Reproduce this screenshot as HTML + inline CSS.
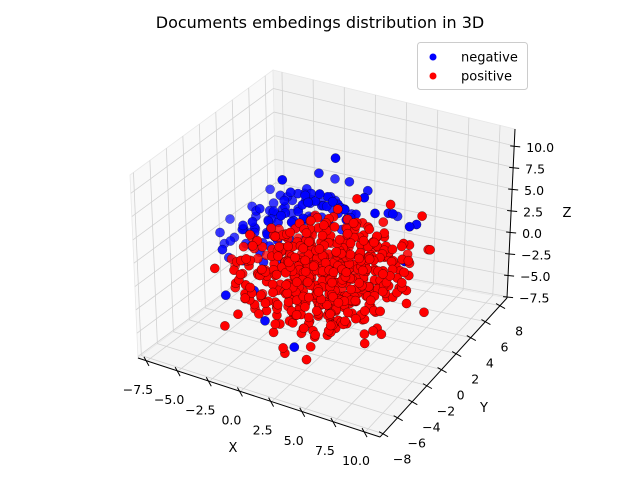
<!DOCTYPE html>
<html><head><meta charset="utf-8"><style>
html,body{margin:0;padding:0;background:#fff;}
svg{display:block;font-family:"DejaVu Sans","Liberation Sans",sans-serif;}
</style></head><body>
<svg id="chart" width="640" height="480" viewBox="0 0 640 480">
<text x="320" y="28" text-anchor="middle" font-size="16" fill="#000">Documents embedings distribution in 3D</text>
<g id="panes"></g>
<g id="grid"></g>
<g id="axes"></g>
<g id="points"></g>
<text x="233" y="452" text-anchor="middle" font-size="13">X</text>
<text x="484" y="412" text-anchor="middle" font-size="13">Y</text>
<text x="567" y="217" text-anchor="middle" font-size="13">Z</text>
<g>
<rect x="417.5" y="42.5" width="110" height="47" rx="3" fill="#fff" fill-opacity="0.8" stroke="#ccc"/>
<g><circle cx="433" cy="57" r="3.5" fill="#0000ff"/><text x="461" y="61.5" font-size="13">negative</text></g>
<g><circle cx="433" cy="76" r="3.5" fill="#ff0000"/><text x="461" y="80.5" font-size="13">positive</text></g>
</g>
</svg>
<script>
const xRange=[-8.22,11.2], yRange=[-8.42,8.95], zRange=[-7.66,11.96];
const xTicks=[-7.5,-5.0,-2.5,0.0,2.5,5.0,7.5,10.0];
const yTicks=[-8,-6,-4,-2,0,2,4,6,8];
const zTicks=[-7.5,-5.0,-2.5,0.0,2.5,5.0,7.5,10.0];
const negative=[-2.0,3.0,2.0,-4.0,2.0,1.0,-1.0,4.0,3.0,-3.0,4.5,0.5,0.5,3.5,4.0,-5.0,3.0,-0.5,-2.5,1.0,3.5,-6.0,1.5,0.5,1.0,5.0,2.0,-3.5,5.5,2.5,
-4.5,4.0,3.0,-1.5,2.5,5.0,-5.5,2.5,2.0,0.0,6.0,1.0,-3.0,3.0,4.5,-7.0,2.0,-1.0,-6.5,3.5,1.5,-2.0,5.0,5.5,2.0,4.5,4.5,-4.0,1.0,-2.0,
-5.0,0.0,-1.5,-6.5,0.5,-2.0,-7.5,1.5,-1.5,-3.5,-1.0,-3.5,-1.0,1.5,1.0,1.5,3.0,3.0,-0.5,5.5,-0.5,-4.0,5.0,-1.0,-2.5,6.0,1.5,0.0,2.0,6.0,
-3.0,2.0,6.5,1.0,6.5,3.5,3.0,6.0,2.0,-1.5,7.0,0.5,0.0,4.0,8.5,2.0,2.0,5.0,-6.0,-1.0,0.0,-5.5,4.5,0.5,
4.0,5.0,3.0,-2.0,-2.0,-5.5,1.0,-3.0,-6.5,-4.5,-3.0,-3.0,6.0,4.0,3.0,7.5,1.0,2.0,5.0,6.5,1.0,-3.0,0.0,2.0,-2.0,7.0,3.5,2.5,8.0,0.0,
-8.0,3.0,0.0,-7.5,1.0,0.0,-4.0,6.5,1.5,-6.0,5.0,2.5,-1.0,0.0,4.0,0.5,1.0,-3.0,-3.5,3.5,-1.0,3.5,3.5,4.0,-0.5,6.5,4.0,
-4.0,3.5,2.0,-3.0,5.0,3.5,-2.0,4.0,4.0,-5.0,1.5,0.5,-1.0,5.5,2.5,-6.0,2.5,-0.5,-2.5,3.5,-1.5,-4.5,0.5,2.5,0.0,3.0,5.0,-3.5,2.5,-3.0,
-4.2,2.4,1.6,-3.6,3.2,2.6,-2.8,2.0,3.0,-5.2,1.8,0.8,-4.6,3.6,1.2,-3.2,4.2,1.8,-2.2,3.6,3.4,-1.4,4.4,2.6,-0.6,3.8,3.2,-5.8,2.8,-0.2,-4.8,0.8,-0.4,-3.8,1.4,2.2,
-2.6,4.8,2.2,-1.8,2.6,3.8,-0.2,4.6,2.0,0.6,4.2,3.0,-5.4,3.8,0.2,-4.0,4.6,0.8,-3.0,1.0,1.2,-6.4,2.2,0.0,-5.0,2.2,2.6,-3.4,2.8,3.6,-1.0,3.0,4.2,0.2,5.2,1.2,
-4.4,1.2,-1.2,-6.8,1.2,-0.8,-2.4,4.0,1.0,-1.2,5.4,1.6,1.2,4.0,2.4,-3.8,3.8,3.2,-5.6,1.0,1.4,-4.2,2.8,-0.6,-2.0,1.8,2.6,-0.8,2.2,3.0,0.8,3.4,3.8,-3.0,5.2,0.4,
-3.4,2.0,1.8,-4.4,3.0,2.0,-2.4,3.0,2.6,-1.6,3.8,1.8,-0.8,4.6,3.6,-5.0,3.4,1.6,-3.8,4.4,2.4,-2.8,3.6,4.0,-4.8,2.2,-1.0,-5.8,1.6,-1.0,
-6.0,3.2,0.8,-1.2,2.4,4.4,0.4,3.0,4.6,-2.2,4.4,3.0,-3.2,1.6,0.2,-4.0,1.8,-0.8,-6.6,2.6,-0.4,-1.8,5.0,0.8,-0.2,3.6,1.4,-5.2,4.2,1.8];
const positive=[1.2,0.3,-1.0,-2.5,1.8,0.5,4.1,-2.2,-3.1,0.0,-3.5,1.2,3.3,2.9,-0.4,-1.7,-1.1,-2.8,5.6,0.8,1.9,2.2,-4.6,-1.5,-3.4,-2.7,0.9,0.9,4.2,-2.2,
6.3,-1.5,-0.7,-0.6,2.6,2.8,2.8,0.1,3.4,-4.2,0.6,-1.4,1.5,-1.9,-4.6,3.9,4.1,1.1,-1.2,-4.8,-0.3,4.7,-3.9,2.4,0.4,1.1,-5.2,-2.9,3.7,-0.9,
7.1,1.9,-2.0,2.0,-2.8,0.6,-0.3,0.0,1.7,5.2,2.4,-3.8,-3.8,-0.9,2.3,1.1,3.3,0.2,3.6,-0.6,-1.9,-1.9,-2.9,-4.1,0.7,-0.8,4.0,6.0,-3.0,0.3,
-5.1,1.3,0.1,2.5,5.0,-1.2,4.4,0.5,-5.0,-0.9,3.9,-3.6,1.9,-5.3,2.1,-2.2,-0.4,-0.6,3.0,1.6,2.6,5.9,-1.0,3.2,-1.4,1.4,-4.4,0.2,-2.1,-2.4,
2.9,-0.3,0.9,-3.1,2.3,-2.5,4.8,3.2,-0.1,0.5,-4.0,-3.5,-0.1,0.9,3.0,3.5,-2.5,-4.2,6.8,0.2,0.8,-2.6,-3.5,-1.8,1.6,2.0,-3.0,4.0,-4.8,-0.2,
-4.5,-1.8,-3.0,1.8,4.6,1.6,5.4,-2.0,-2.6,-1.0,-1.6,2.5,2.4,1.0,-0.3,0.0,5.3,0.0,3.7,3.8,-4.1,-3.6,0.2,-4.7,1.3,-3.2,3.3,7.5,-2.2,-0.9,
-0.8,-5.6,1.0,2.7,-1.4,-5.8,4.5,1.2,4.3,-2.0,4.5,1.3,0.6,-0.2,-1.6,5.0,-4.3,1.3,-4.0,3.0,0.2,3.1,0.0,-2.9,1.0,2.7,4.2,-1.5,0.5,0.0,
6.6,3.0,-1.4,0.3,-2.6,-0.5,3.8,-1.2,1.5,-2.8,-2.0,-4.5,2.1,3.6,-4.6,4.3,-5.5,-2.1,-0.4,1.8,-2.0,1.4,-4.4,0.4,5.7,4.5,0.5,-3.3,1.0,1.9,
8.2,-0.5,1.1,-5.6,-0.5,-1.2,2.6,6.0,0.9,3.2,-6.1,0.0,1.7,0.6,-6.0,0.8,-0.4,5.1,7.9,-3.8,-1.6,-4.8,2.6,-2.6,5.1,5.5,-2.5,-2.3,-4.9,-2.9,
4.6,0.0,-1.0,1.9,1.5,0.9,-0.7,-0.9,-3.2,3.4,2.2,-2.0,2.3,-3.6,-1.3,0.1,2.9,-1.1,5.3,-0.7,-3.7,-1.8,2.1,-1.7,2.8,-1.7,2.2,0.9,-1.3,1.5,
9.5,-2.0,0.5,8.8,1.5,-3.5,-6.2,0.8,-3.0,-5.0,-3.5,0.0,4.0,7.0,-3.0,2.0,-6.0,-4.0,6.5,-6.0,2.5,3.0,2.0,6.5,7.0,4.0,4.5,1.5,-5.0,-5.5,
-3.0,-5.5,-4.0,5.5,-1.0,-6.0,9.0,-4.5,-1.0,8.0,3.5,1.5,-1.0,6.0,-4.0,0.0,-7.5,1.5,6.0,6.5,-1.5,-4.5,4.5,-1.5,4.5,-7.0,-3.5,3.5,5.5,3.5,
2.0,0.5,-2.6,1.0,-1.0,-0.8,3.0,1.0,0.2,-0.5,0.5,-0.5,2.6,-0.9,-3.4,4.0,2.5,1.8,0.2,1.8,1.0,1.6,-2.4,-2.0,3.9,-2.9,0.9,-1.1,-2.2,0.4,
5.0,1.5,-2.2,-2.0,0.0,-3.0,1.2,3.8,-0.6,3.3,-4.2,-3.0,0.6,-3.0,2.5,4.9,-1.8,0.2,-0.2,-1.8,-1.0,2.4,2.8,2.8,6.2,1.0,-1.1,-3.0,-1.2,-1.5,
1.4,0.9,2.0,3.6,0.4,-0.8,0.0,3.3,-2.6,2.2,-0.6,-1.2,4.2,-3.4,-1.5,-1.3,3.0,0.4,5.8,2.0,0.6,1.8,-3.8,1.3,-2.4,1.2,-0.2,3.0,4.8,-0.9,
0.4,-0.6,-3.8,2.9,3.0,-3.0,4.7,-0.2,2.0,-0.8,-3.4,-2.0,1.1,1.7,-1.8,3.8,1.8,-0.2,6.5,-1.4,-1.8,2.5,-2.0,3.8,-1.6,-0.2,1.2,0.7,4.4,1.8,
4.4,3.5,0.4,-3.7,2.0,-3.4,2.1,-5.0,-0.8,5.5,-3.2,-1.0,0.3,0.3,2.2,3.2,-1.1,-5.1,-0.9,4.8,-1.6,1.7,1.2,3.6,5.2,0.9,-4.2,-2.7,-3.1,1.6,
2.6,2.3,-1.0,1.3,-1.5,0.0,3.6,-1.8,-0.4,0.1,-1.3,-2.2,-1.4,1.6,-3.1,4.1,1.1,3.0,2.3,4.0,-2.3,6.9,-0.9,0.0,0.9,-5.2,-2.5,-3.2,-0.3,0.8,
3.5,3.0,1.0,1.8,-0.2,-0.2,4.6,-2.6,-2.8,-0.3,2.2,-0.8,2.7,0.7,1.2,5.4,3.8,-1.9,0.5,-2.3,0.9,-2.1,-1.5,-1.1,3.0,-3.0,-2.2,1.5,2.4,-4.0,
7.6,0.5,-0.4,6.0,-2.5,1.8,-4.3,-2.2,-0.8,-1.0,-4.0,-1.0,2.0,-1.2,-3.0,4.0,4.0,-1.0,0.0,0.0,-1.0,3.3,-0.4,0.7,1.0,3.0,-1.5,-2.8,3.0,-1.2,
-3.5,-0.5,-2.0,-1.2,2.8,-2.4,5.2,-3.6,0.5,3.8,0.6,-3.3,-0.5,-2.8,-3.8,2.4,0.2,-4.5,6.0,2.8,-3.0,1.0,-1.8,-5.4,3.8,3.0,-2.8,0.5,0.6,-3.0,
-2.5,-2.5,-3.6,4.5,1.8,-3.0,2.8,-3.2,-4.6,-1.8,-0.8,-4.8,5.6,-1.2,-4.8,1.9,3.6,-3.2,7.0,-1.8,-3.2,0.1,-4.2,-4.4,3.6,-5.0,-4.0,-0.3,3.8,-2.2,
-2.8,-3.1,-1.2,-1.5,0.4,-3.9,0.3,2.7,0.8,1.9,-1.3,-4.1,3.4,3.6,-2.2,5.1,-0.6,1.4,-0.7,-2.2,2.0,2.6,1.1,-0.5,4.3,-3.5,-2.6,-2.1,2.9,-1.8,0.9,-3.8,-0.3,5.8,2.2,-3.4,
-1.1,-0.7,0.2,1.4,3.3,-3.1,3.0,-2.4,1.9,4.7,0.9,-1.6,-2.6,0.8,1.3,0.1,-1.6,-4.4,2.2,2.0,2.3,3.9,-0.1,-4.0,5.5,-2.8,0.0,-0.4,3.8,-0.4,1.6,-3.0,-2.8,3.3,1.7,0.7,
-2.4,-1.8,-3.3,-0.2,1.2,-2.5,1.2,-0.3,1.1,2.9,3.9,-1.0,4.6,-1.9,-3.5,6.0,0.7,-0.9,-1.7,3.4,1.5,0.6,-2.7,1.7,2.5,-0.8,-1.9,4.1,2.8,2.1,-0.9,-3.6,-2.1,1.8,0.8,-4.3,
3.6,-3.9,1.0,5.3,3.0,-0.2,-2.9,1.6,-0.9,-0.6,-0.4,-1.4,1.0,2.2,-1.2,2.7,-2.0,-0.2,4.4,0.3,0.9,-1.3,-2.9,0.6,0.4,0.0,2.4,2.0,-3.3,-3.9,3.8,2.4,-3.6,5.7,-1.3,-2.2,
-2.2,-0.2,2.2,-0.1,3.0,2.1,1.5,-1.1,-2.4,3.2,0.6,-2.8,4.9,2.5,1.2,-1.9,2.2,-3.6,0.8,-2.1,-3.3,2.4,3.4,0.3,4.0,-2.6,2.3,5.6,0.0,2.2,-0.5,1.7,0.5,1.3,-0.5,0.0,
3.0,-1.6,-3.0,4.5,1.4,-4.2,-1.4,-1.2,-2.6,0.2,2.5,-3.7,2.1,0.2,-3.4,3.7,-3.0,-1.0,5.2,1.9,-2.6,-2.7,-2.6,1.1,-0.3,-3.2,0.8,1.7,1.5,1.6,3.5,3.2,1.0,4.8,-0.9,-0.4,
-1.6,0.0,-0.6,0.5,-0.9,-0.9,2.3,-2.9,0.5,3.9,1.0,1.7,5.4,-3.4,-1.8,-0.8,2.6,-2.8,1.1,3.7,1.4,2.8,0.4,-1.5,4.2,-1.4,1.0,6.2,1.5,0.3,-2.5,1.1,-2.2,0.0,-0.2,-2.9,
1.9,2.9,-2.0,3.4,-0.6,2.6,5.0,0.4,-3.1,-1.0,-2.5,-0.9,0.7,1.4,-0.1,2.5,-1.6,2.8,4.0,3.5,-0.6,-2.0,-1.0,0.7,0.3,-3.9,-1.6,2.1,-0.4,-4.6,3.6,2.1,-1.2,5.9,-2.0,1.1,
-0.3,0.7,1.8,1.3,-2.3,0.3,3.1,2.6,-3.9,4.6,-2.2,-1.3,-1.8,3.8,0.0,0.9,0.5,-3.8,2.6,-3.6,-2.3,4.4,1.2,2.4,-2.3,-3.4,-2.4,0.0,1.9,-1.5,1.7,-1.4,1.4,3.3,0.1,-0.6,
5.1,2.8,0.8,-1.2,-1.5,1.9,0.5,3.2,-1.9,2.3,1.7,-2.6,4.1,-0.4,-2.4,5.6,-3.8,0.7,-0.6,-0.6,-3.6,1.6,-2.7,-1.1,3.7,-1.0,0.2,-2.8,2.2,0.4,-0.4,-2.9,-3.0,2.9,3.0,1.8,
1.1,0.1,0.6,2.4,-0.9,-0.7,3.5,1.3,-0.4,0.2,-1.0,-1.8,1.8,2.4,0.1,2.9,-2.1,-1.6,4.3,0.7,-1.9,-0.9,0.9,-1.0,0.8,-1.9,0.9,2.0,1.0,-2.2,3.8,-0.2,-2.9,1.4,-0.6,-3.2,
5.0,-1.5,-0.8,-1.5,2.0,-1.4,0.4,-0.2,-0.2,2.6,2.6,-1.4,4.6,-2.9,-0.1,-0.5,-1.8,-2.0,1.5,3.0,-0.6,3.1,-3.2,0.6,4.9,2.0,-1.7,0.1,0.8,0.9,2.2,-1.2,-0.3,3.4,0.5,1.5,
-1.8,-2.6,0.4,0.2,-1.9,2.1,2.4,-2.4,-0.9,4.4,-1.6,1.7,-0.9,0.3,-2.3,1.2,1.0,-3.0,3.2,2.0,2.4,5.0,0.2,-2.0,-1.4,2.6,0.9,0.8,3.2,-2.4,
2.6,0.0,2.0,4.0,-3.0,-1.8,-2.2,-1.4,-1.8,0.0,-0.8,0.2,1.9,-1.8,1.6,3.5,-0.5,-3.2,5.3,1.6,1.6,-0.2,2.1,2.2,1.5,2.8,0.6,3.9,2.9,-1.7,
-2.0,0.4,2.0,-0.6,-3.1,-1.2,1.0,-0.1,-2.0,2.9,-1.0,0.4,4.5,0.9,0.2,-1.2,1.2,-1.0,0.6,2.4,1.4,2.2,-3.3,2.2,3.8,0.8,-2.6,5.4,-2.2,-0.6,
-1.6,-0.4,1.0,0.4,0.6,-1.2,2.0,1.8,1.0,3.6,-2.4,1.2,4.8,2.6,-2.8,-0.4,-1.4,2.6,1.6,0.2,-0.8,3.0,2.4,-0.2,4.2,-1.2,-1.2,-2.6,2.4,-2.6,
0.0,1.0,0.0,1.0,-2.6,-1.8,2.4,0.8,-3.4,3.8,-2.0,-2.2,5.6,0.6,0.6,-1.0,-2.2,-3.0,0.8,1.6,2.6,2.8,3.4,-2.6,4.4,1.8,0.8,1.6,-1.0,2.6,
-2.4,0.2,-0.2,-0.8,3.4,-1.2,1.2,-3.4,0.2,3.2,-1.4,-0.8,4.8,-0.6,2.6,0.2,-2.4,-2.4,2.0,2.6,-1.8,3.6,0.2,2.0,5.2,-1.0,-3.0,-1.2,-1.0,-0.2,
0.6,-0.4,1.4,2.2,-0.2,-1.6,3.4,1.2,-1.4,4.6,3.2,1.0,-0.2,0.0,-3.2,1.4,2.0,-0.2,2.8,-2.8,-0.4,4.2,-0.8,0.4,0.4,-3.0,1.2,1.8,3.6,1.6,
-1.6,1.6,0.6,0.0,-1.2,-0.6,1.8,1.2,-2.4,3.4,-2.2,2.0,5.0,2.2,-0.8,2.4,-1.4,-2.6,3.0,0.6,1.2,0.8,0.4,0.6,-0.8,-0.2,1.6,4.0,1.6,-3.4,
-2.2,1.0,1.4,-1.0,2.0,-2.0,0.6,-1.6,-3.4,2.0,-0.6,3.0,3.6,-3.6,0.0,5.8,-0.2,-1.4,1.2,-2.0,0.8,2.6,1.4,0.2,4.2,2.4,2.0,-0.4,2.8,-0.4,
6.4,0.4,-0.2,6.2,-1.6,0.8,5.8,1.2,-2.2,-3.0,0.6,0.0,-2.8,-1.0,-1.0,-2.4,1.6,-1.6,2.0,4.2,-0.8,3.0,-4.2,0.4,1.0,3.4,-3.4,4.4,-3.4,-2.6,
0.0,0.0,3.6,1.0,1.2,3.8,2.0,-0.8,4.2,3.0,0.8,3.6,4.0,-0.4,3.8,5.0,1.0,3.2,-1.0,1.0,3.2,0.6,2.2,3.4,2.6,2.2,3.6,3.6,-1.6,3.6,
4.6,2.0,3.0,1.6,0.0,4.6,3.4,2.8,3.0,-0.6,-0.8,3.6,5.6,-0.6,3.0,2.2,3.2,2.8,0.2,3.4,2.6,6.0,1.8,2.2,1.2,-2.0,3.4,4.2,3.6,2.0,
-3.6,-1.4,-0.6,-3.2,-2.2,0.6,-4.0,0.2,0.8,-3.8,-2.8,-1.6,-4.4,-1.0,-2.0,-3.0,-3.6,-0.4,-3.4,-0.6,1.6,-4.6,0.8,-0.6,-2.8,-3.2,-2.6,-4.2,-2.0,0.0,
-3.6,0.6,-2.4,-2.6,-4.0,0.6,-4.8,-0.2,0.2,-3.4,1.4,0.8,-3.0,-1.8,2.0,
6.4,1.8,-0.8,6.8,2.6,0.6,5.8,3.4,-0.2,7.0,0.8,-1.4,6.0,3.0,1.6,6.6,-0.4,1.4,7.2,1.4,0.4,5.4,4.2,0.8,6.2,2.4,-2.4,4.8,4.2,-1.8,
0.0,-2.0,-4.8,1.0,-1.0,-5.2,2.0,0.0,-5.0,3.0,-1.0,-4.8,-1.0,-0.6,-4.6,1.6,-3.0,-4.8,2.6,1.6,-4.4,3.6,-2.4,-4.4,0.6,0.8,-4.6,-1.6,-2.4,-4.0,
-2.0,2.0,1.6,-1.4,0.0,2.6,0.8,-3.2,2.6,2.8,-4.0,1.8,4.6,-3.8,1.0,-1.0,-3.8,1.6,1.8,-4.4,-2.6,5.0,-3.0,-2.6,-2.2,-2.2,-0.6,3.4,4.0,0.0];

const C={c000:[138,358],c100:[380,437],c010:[277,255],c110:[507,298],
c001:[130,175],c101:[378,245],c011:[273,70],c111:[515,129]};
function nx(x){return (x-xRange[0])/(xRange[1]-xRange[0]);}
function ny(y){return (y-yRange[0])/(yRange[1]-yRange[0]);}
function nz(z){return (z-zRange[0])/(zRange[1]-zRange[0]);}
function lerp(a,b,t){return [a[0]+(b[0]-a[0])*t,a[1]+(b[1]-a[1])*t];}
function P(x,y,z){
  const u=nx(x),v=ny(y),w=nz(z);
  const b=lerp(lerp(C.c000,C.c100,u),lerp(C.c010,C.c110,u),v);
  const t=lerp(lerp(C.c001,C.c101,u),lerp(C.c011,C.c111,u),v);
  return lerp(b,t,w);
}
const NS="http://www.w3.org/2000/svg";
function mk(tag,attrs,parent){const e=document.createElementNS(NS,tag);for(const k in attrs)e.setAttribute(k,attrs[k]);parent.appendChild(e);return e;}
const [x0,x1]=xRange,[y0,y1]=yRange,[z0,z1]=zRange;
const panes=document.getElementById('panes');
function poly(pts,fill,name){
  const e=mk('polygon',{points:pts.map(p=>p.join(',')).join(' '),fill:fill,stroke:'#e8e8e8','stroke-width':0.8},panes);
  
  
}
poly([P(x0,y0,z0),P(x0,y1,z0),P(x0,y1,z1),P(x0,y0,z1)],'#f9f9f9','left-pane');
poly([P(x0,y1,z0),P(x1,y1,z0),P(x1,y1,z1),P(x0,y1,z1)],'#f2f2f2','back-pane');
poly([P(x0,y0,z0),P(x1,y0,z0),P(x1,y1,z0),P(x0,y1,z0)],'#f5f5f5','floor-pane');
const grid=document.getElementById('grid');
function gl(a,b,name){
  const e=mk('line',{x1:a[0],y1:a[1],x2:b[0],y2:b[1],stroke:'#d2d2d2','stroke-width':0.8},grid);
  
  
}
xTicks.forEach(x=>{gl(P(x,y0,z0),P(x,y1,z0),'x-grid-floor');gl(P(x,y1,z0),P(x,y1,z1),'x-grid-back');});
yTicks.forEach(y=>{gl(P(x0,y,z0),P(x1,y,z0),'y-grid-floor');gl(P(x0,y,z0),P(x0,y,z1),'y-grid-left');});
zTicks.forEach(z=>{gl(P(x0,y0,z),P(x0,y1,z),'z-grid-left');gl(P(x0,y1,z),P(x1,y1,z),'z-grid-back');});
const axes=document.getElementById('axes');
function al(a,b,name,w){
  const e=mk('line',{x1:a[0],y1:a[1],x2:b[0],y2:b[1],stroke:'#000','stroke-width':w},axes);
  
  
}
function tl(x,y,txt,anchor,name){
  const e=mk('text',{x:x,y:y,'text-anchor':anchor,'font-size':12.5,fill:'#000'},axes);
  e.textContent=txt;
  
  
}
const fmt=v=>(v<0?'\u2212':'')+Math.abs(v).toFixed(1);
const fmtI=v=>(v<0?'\u2212':'')+Math.abs(v);
al(P(x0,y0,z0),P(x1,y0,z0),'x-axis-line',1);
al(P(x1,y0,z0),P(x1,y1,z0),'y-axis-line',1);
al(P(x1,y1,z0),P(x1,y1,z1),'z-axis-line',1);
xTicks.forEach(x=>{const p=P(x,y0,z0);al([p[0]-3,p[1]-4],[p[0]+2,p[1]+5],'x-tick',1);tl(p[0]-9,p[1]+33,fmt(x),'middle','x-tick-label');});
yTicks.forEach(y=>{const p=P(x1,y,z0);al([p[0]-4,p[1]-2],[p[0]+5,p[1]+3],'y-tick',1);tl(p[0]+19,p[1]+30,fmtI(y),'middle','y-tick-label');});
zTicks.forEach(z=>{const p=P(x1,y1,z);al([p[0]-4,p[1]],[p[0]+6,p[1]+1],'z-tick',1);tl(p[0]+12,p[1]+6,fmt(z),'start','z-tick-label');});
const ptsG=document.getElementById('points');
function drawSeries(arr,color,name){
  const g=mk('g',{},ptsG);
  
  
  const pts=[];
  for(let i=0;i+2<arr.length;i+=3)pts.push([arr[i],arr[i+1],arr[i+2]]);
  const depth=p=>ny(p[1])-nx(p[0])*0.9-nz(p[2])*0.5;
  pts.sort((a,b)=>depth(b)-depth(a));
  pts.forEach(p=>{
    const s=P(p[0],p[1],p[2]);
    const d=depth(p);
    const op=Math.max(0.4,Math.min(1,1.1-(d+0.2)*0.6));
    const c=mk('circle',{cx:s[0].toFixed(1),cy:s[1].toFixed(1),r:4.6,fill:color,'fill-opacity':op,stroke:'#000','stroke-opacity':op*0.6,'stroke-width':0.5},g);
    
    
  });
}
drawSeries(negative,'#0000ff','negative');
drawSeries(positive,'#ff0000','positive');
</script>
</body></html>
